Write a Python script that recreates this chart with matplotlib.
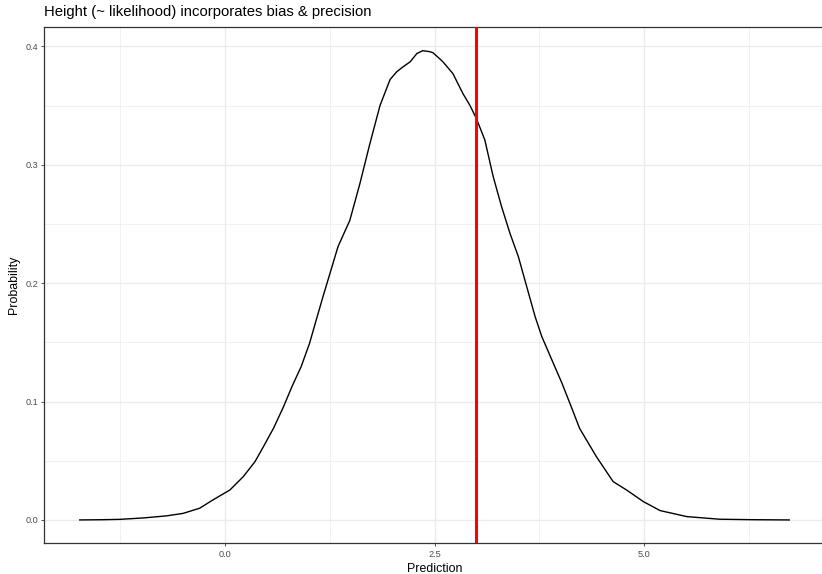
import matplotlib
matplotlib.use("Agg")
import matplotlib.pyplot as plt
from matplotlib.ticker import FixedLocator

plt.rcParams['font.family'] = ['Liberation Sans', 'DejaVu Sans']

# Density curve
pred = [-1.73, -1.45, -1.25, -0.97, -0.70, -0.50, -0.30, -0.14, 0.06, 0.22, 0.36,
        0.46, 0.58, 0.70, 0.80, 0.91, 1.01, 1.09, 1.17, 1.23, 1.35, 1.49,
        1.61, 1.73, 1.85, 1.97, 2.05, 2.13, 2.21, 2.29, 2.36, 2.44, 2.48,
        2.54, 2.60, 2.72, 2.84, 2.92, 3.00, 3.10, 3.20, 3.30, 3.40, 3.50,
        3.60, 3.70, 3.78, 3.90, 4.02, 4.13, 4.23, 4.43, 4.63, 4.79, 4.99,
        5.19, 5.51, 5.90, 6.30, 6.73]
prob = [0.0000, 0.0002, 0.0005, 0.0017, 0.0034, 0.0055, 0.0099, 0.0170, 0.0253, 0.0366, 0.0493,
        0.0619, 0.0774, 0.0957, 0.1126, 0.1295, 0.1492, 0.1690, 0.1886, 0.2027, 0.2310, 0.2530,
        0.2840, 0.3180, 0.3500, 0.3720, 0.3786, 0.3830, 0.3870, 0.3940, 0.3964, 0.3956, 0.3947,
        0.3910, 0.3870, 0.3770, 0.3600, 0.3505, 0.3390, 0.3210, 0.2900, 0.2646, 0.2421, 0.2224,
        0.1970, 0.1717, 0.1548, 0.1351, 0.1155, 0.0957, 0.0774, 0.0535, 0.0324, 0.0253, 0.0155,
        0.0079, 0.0028, 0.0006, 0.0002, 0.0000]
vline_x = 3.0

title = "Height (~ likelihood) incorporates bias & precision"
xlabel = "Prediction"
ylabel = "Probability"
xticks = [0.0, 2.5, 5.0]
xticklabels = ["0.0", "2.5", "5.0"]
yticks = [0.0, 0.1, 0.2, 0.3, 0.4]
yticklabels = ["0.0", "0.1", "0.2", "0.3", "0.4"]

W, H = 822, 574
fig = plt.figure(figsize=(W / 100, H / 100), dpi=100)
left_px, right_px, top_px, bot_px = 44.3, 824.7, 27.2, 543.4
ax = fig.add_axes([left_px / W, (H - bot_px) / H, (right_px - left_px) / W, (bot_px - top_px) / H])

grid_col = "#EBEBEB"
ax.set_facecolor("white")
ax.xaxis.set_major_locator(FixedLocator(xticks))
ax.yaxis.set_major_locator(FixedLocator(yticks))
ax.xaxis.set_minor_locator(FixedLocator([-1.25, 1.25, 3.75, 6.25]))
ax.yaxis.set_minor_locator(FixedLocator([0.05, 0.15, 0.25, 0.35]))
ax.grid(which="major", color=grid_col, linewidth=1.0, zorder=0)
ax.grid(which="minor", color=grid_col, linewidth=0.5, zorder=0)
ax.set_axisbelow(True)

ax.plot(pred, prob, color="black", linewidth=1.0, zorder=3,
        solid_joinstyle="round", antialiased=True)
ax.axvline(vline_x, color="#FF0000", linewidth=2.2, zorder=4)

xr = max(pred) - min(pred)
ax.set_xlim(min(pred) - 0.05 * xr, max(pred) + 0.05 * xr)
yr = max(prob) - min(prob)
ax.set_ylim(min(prob) - 0.05 * yr, max(prob) + 0.05 * yr)

ax.set_xticklabels(xticklabels)
ax.set_yticklabels(yticklabels)
ax.tick_params(which="major", length=2.5, width=0.6, color="#333333",
               labelsize=6.6, labelcolor="#4D4D4D", pad=2)
ax.tick_params(which="minor", length=0)
for s in ax.spines.values():
    s.set_color("#333333")
    s.set_linewidth(0.9)

ax.set_xlabel(xlabel, fontsize=8.9, color="black", labelpad=3)
fig.text(14 / W, 1 - ((top_px + bot_px) / 2) / H, ylabel, rotation=90,
         fontsize=8.9, ha="center", va="center")
fig.text(left_px / W, 1 - 12 / H, title, fontsize=10.7, ha="left", va="center")

fig.savefig("out.png", dpi=100)
